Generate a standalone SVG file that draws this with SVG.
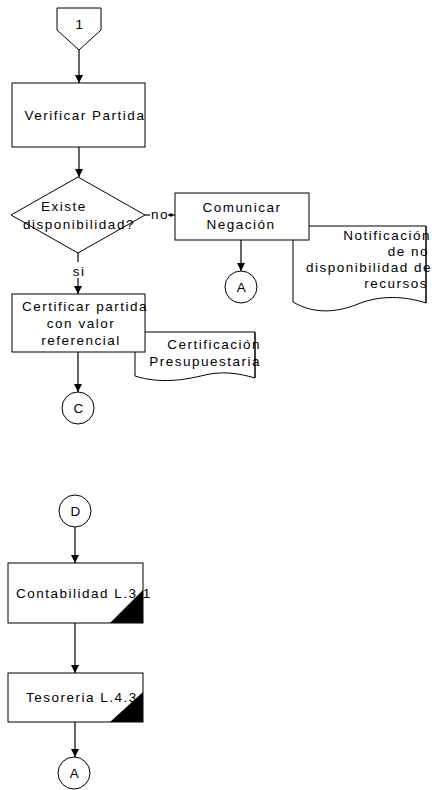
<svg xmlns="http://www.w3.org/2000/svg" width="440" height="790" viewBox="0 0 440 790">
  <style>
    .shape { fill: #fff; stroke: #000; stroke-width: 1; }
    .line { fill: none; stroke: #000; stroke-width: 1.2; }
    .outline { fill: none; stroke: #000; stroke-width: 1; }
    .t { font-family: "Liberation Sans", Arial, sans-serif; font-size: 13.5px; letter-spacing: 1.5px; fill: #000; }
    .m { text-anchor: middle; }
    .e { text-anchor: end; }
    .lbl { fill: #fff; stroke: none; }
  </style>
  <defs>
    <marker id="arrow" viewBox="0 0 10 10" refX="10" refY="5" markerWidth="8" markerHeight="8" orient="auto" markerUnits="userSpaceOnUse">
      <path d="M0,0 L10,5 L0,10 z" fill="#000"/>
    </marker>
  </defs>

  <!-- connectors -->
  <g id="connectors">
    <line class="line" x1="79" y1="50" x2="79" y2="83" marker-end="url(#arrow)"/>
    <line class="line" x1="79" y1="147" x2="79" y2="177" marker-end="url(#arrow)"/>
    <line class="line" x1="78" y1="253" x2="78" y2="294" marker-end="url(#arrow)"/>
    <rect class="lbl" x="71" y="262" width="14" height="16"/>
    <text class="t m" x="79" y="276">si</text>
    <line class="line" x1="145" y1="215" x2="175" y2="215"/>
    <rect class="lbl" x="150" y="207" width="18" height="14"/>
    <text class="t m" x="160" y="219">no</text>
    <circle cx="171" cy="215" r="1.8" fill="#000"/>
    <line class="line" x1="241" y1="240" x2="241" y2="271" marker-end="url(#arrow)"/>
    <line class="line" x1="78" y1="352" x2="78" y2="392" marker-end="url(#arrow)"/>
    <line class="line" x1="75" y1="527" x2="75" y2="563" marker-end="url(#arrow)"/>
    <line class="line" x1="75" y1="623" x2="75" y2="673" marker-end="url(#arrow)"/>
    <line class="line" x1="75" y1="722" x2="75" y2="757" marker-end="url(#arrow)"/>
  </g>

  <!-- off-page connector 1 -->
  <g id="offpage-1">
    <polygon class="shape" points="57,8 101,8 101,30 79,50 57,30"/>
    <text class="t m" x="80" y="29">1</text>
  </g>

  <g id="verificar-partida">
    <rect class="shape" x="12" y="83" width="133" height="64"/>
    <text class="t m" x="85" y="120">Verificar Partida</text>
  </g>

  <g id="existe-disponibilidad">
    <polygon class="shape" points="78,177 145,215 78,253 11,215"/>
    <text class="t m" x="64" y="211">Existe</text>
    <text class="t m" x="79" y="229">disponibilidad?</text>
  </g>

  <!-- document behind the process box -->
  <g id="notificacion">
    <path class="shape" d="M293,226 L426,226 L426,303 C405,296 380,295 358,304 C338,312 315,315 293,302 Z"/>
    <text class="t e" x="431" y="240">Notificación</text>
    <text class="t e" x="429" y="256">de no</text>
    <text class="t e" x="432" y="272">disponibilidad de</text>
    <text class="t e" x="428" y="288">recursos</text>
    <line class="outline" x1="426" y1="226" x2="426" y2="303"/>
  </g>

  <g id="comunicar-negacion">
    <rect class="shape" x="175" y="193" width="134" height="47"/>
    <text class="t m" x="242" y="212">Comunicar</text>
    <text class="t m" x="241" y="229">Negación</text>
  </g>

  <g id="connector-a-1">
    <circle class="shape" cx="241" cy="287" r="16"/>
    <text class="t m" x="242" y="292">A</text>
  </g>

  <g id="certificacion-presupuestaria">
    <path class="shape" d="M135,332 L255,332 L255,378 C238,373 222,371 205,375 C185,380 160,384 135,376 Z"/>
    <text class="t e" x="261" y="349">Certificación</text>
    <text class="t e" x="261" y="366">Presupuestaria</text>
    <line class="outline" x1="255" y1="332" x2="255" y2="378"/>
  </g>

  <g id="certificar-partida">
    <rect class="shape" x="12" y="294" width="133" height="58"/>
    <text class="t m" x="85" y="311">Certificar partida</text>
    <text class="t m" x="81" y="328">con valor</text>
    <text class="t m" x="81" y="345">referencial</text>
  </g>

  <g id="connector-c">
    <circle class="shape" cx="78" cy="408" r="16"/>
    <text class="t m" x="79" y="413">C</text>
  </g>

  <g id="connector-d">
    <circle class="shape" cx="75" cy="511" r="16"/>
    <text class="t m" x="76" y="516">D</text>
  </g>

  <g id="contabilidad">
    <rect class="shape" x="8" y="563" width="135" height="60"/>
    <text class="t" x="16" y="598">Contabilidad L.3.1</text>
    <polygon points="110,623 143,623 143,590" fill="#000"/>
  </g>

  <g id="tesoreria">
    <rect class="shape" x="8" y="673" width="135" height="49"/>
    <text class="t" x="26" y="702">Tesoreria L.4.3</text>
    <polygon points="110,722 143,722 143,692" fill="#000"/>
  </g>

  <g id="connector-a-2">
    <circle class="shape" cx="74" cy="773" r="16"/>
    <text class="t m" x="75" y="778">A</text>
  </g>
</svg>
